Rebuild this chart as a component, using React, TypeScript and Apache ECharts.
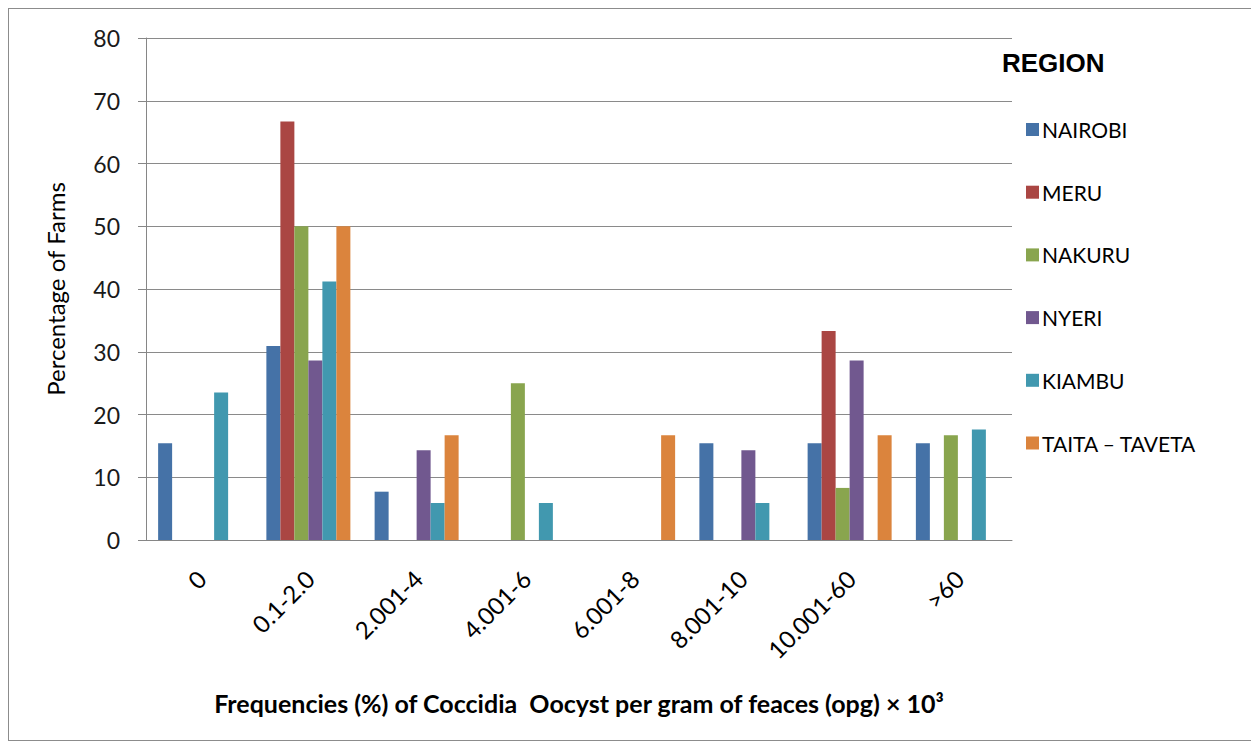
import React, { useEffect, useRef } from "react";
import * as echarts from "echarts";

// Oocyst count classes (opg × 10³)
const categories = ["0", "0.1-2.0", "2.001-4", "4.001-6", "6.001-8", "8.001-10", "10.001-60", ">60"];

// Percentage of farms per region in each class
const nairobi = [15.4, 30.9, 7.7, 0, 0, 15.4, 15.4, 15.4];
const meru = [0, 66.7, 0, 0, 0, 0, 33.3, 0];
const nakuru = [0, 50, 0, 25, 0, 0, 8.3, 16.7];
const nyeri = [0, 28.6, 14.3, 0, 0, 14.3, 28.6, 0];
const kiambu = [23.5, 41.2, 5.9, 5.9, 0, 5.9, 0, 17.6];
const taitaTaveta = [0, 50, 16.7, 0, 16.7, 0, 16.7, 0];

const regionNames = ["NAIROBI", "MERU", "NAKURU", "NYERI", "KIAMBU", "TAITA – TAVETA"];
const regionValues = [nairobi, meru, nakuru, nyeri, kiambu, taitaTaveta];
const regionColors = ["#4572A7", "#AA4643", "#89A54E", "#71588F", "#4198AF", "#DB843D"];

const FONT = "Lato, 'Open Sans', sans-serif";

export default function App() {
  const ref = useRef<HTMLDivElement>(null);

  useEffect(() => {
    if (!ref.current) return;
    const chart = echarts.init(ref.current, undefined, { renderer: "svg" });
    chart.setOption({
      animation: false,
      backgroundColor: "#ffffff",
      grid: { left: 137, top: 29, width: 866, height: 502, containLabel: false },
      graphic: [
        {
          type: "text",
          left: 993,
          top: 41,
          style: {
            text: "REGION",
            font: "bold 26px 'Liberation Sans', Arial, sans-serif",
            fill: "#000",
          },
        },
      ],
      legend: {
        orient: "vertical",
        left: 1012,
        top: 105,
        itemWidth: 13,
        itemHeight: 13,
        itemGap: 41.7,
        icon: "rect",
        data: regionNames,
        textStyle: { fontFamily: FONT, fontSize: 21, color: "#000", lineHeight: 21, padding: [0, 0, 0, -2] },
      },
      xAxis: {
        type: "category",
        data: categories,
        name: "Frequencies (%) of Coccidia  Oocyst per gram of feaces (opg) × 10³",
        nameLocation: "middle",
        nameGap: 150,
        nameTextStyle: { fontFamily: FONT, fontSize: 25, fontWeight: "bold", color: "#000" },
        axisLine: { lineStyle: { color: "#868686", width: 1 } },
        axisTick: { show: false },
        axisLabel: {
          rotate: 45,
          margin: 19,
          align: "right",
          verticalAlign: "top",
          padding: [0, 10, 0, 0],
          fontFamily: FONT,
          fontSize: 24,
          color: "#000",
          interval: 0,
        },
      },
      yAxis: {
        type: "value",
        min: 0,
        max: 80,
        interval: 10,
        name: "Percentage of Farms",
        nameLocation: "middle",
        nameRotate: 90,
        nameGap: 79,
        nameTextStyle: { fontFamily: FONT, fontSize: 24, color: "#000" },
        axisLine: { show: true, lineStyle: { color: "#868686", width: 1 } },
        axisTick: { show: true, length: 8, lineStyle: { color: "#868686" } },
        axisLabel: { margin: 26, fontFamily: FONT, fontSize: 23, color: "#1a1a1a" },
        splitLine: { show: true, lineStyle: { color: "#8a8a8a", width: 1 } },
      },
      series: regionNames.map((name, i) => ({
        name,
        type: "bar",
        data: regionValues[i],
        barGap: "0%",
        barCategoryGap: "22.4%",
        itemStyle: { color: regionColors[i] },
      })),
    });
    return () => chart.dispose();
  }, []);

  return (
    <div
      style={{
        width: 1250,
        height: 733,
        border: "1px solid #8c8c8c",
        boxSizing: "border-box",
        background: "#fff",
      }}
    >
      <div ref={ref} style={{ width: 1248, height: 731 }} />
    </div>
  );
}
